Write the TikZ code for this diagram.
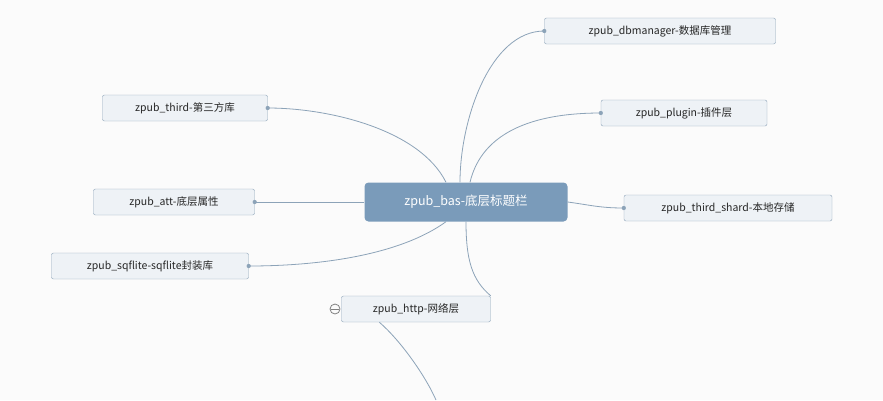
\documentclass[tikz,border=0pt]{standalone}
\usepackage{fontspec}
\setmainfont{Noto Sans CJK SC}
\definecolor{rootblue}{HTML}{7A9BBA}
\definecolor{topicfill}{HTML}{EEF2F6}
\definecolor{edge}{HTML}{8CA3B8}
\tikzset{
  topic/.style={draw=edge,fill=topicfill,rounded corners=2pt,minimum height=26pt,inner xsep=8pt,font=\fontsize{10.5}{12}\selectfont,text=black!85},
  conn/.style={draw=edge,thick},
  knob/.style={fill=edge,draw=none,circle,inner sep=1.5pt}
}
\begin{document}
\begin{tikzpicture}[x=1pt,y=-1pt]
            \useasboundingbox[fill=white!97!gray] (0,0) rectangle (883,400);
            \node[fill=rootblue,rounded corners=4pt,minimum width=203pt,minimum height=39pt,text=white,font=\fontsize{12.5}{14}\selectfont] (root) at (466,202) {zpub\_bas-底层标题栏};

            \node[topic,minimum width=231pt] (dbm) at (660,31) {zpub\_dbmanager-数据库管理};
            \node[topic,minimum width=166pt] (plugin) at (684,113) {zpub\_plugin-插件层};
            \node[topic,minimum width=208pt] (shard) at (728,208) {zpub\_third\_shard-本地存储};
            \node[topic,minimum width=165pt] (third) at (185,108) {zpub\_third-第三方库};
            \node[topic,minimum width=161pt] (att) at (174,202) {zpub\_att-底层属性};
            \node[topic,minimum width=197pt] (sql) at (150,266) {zpub\_sqflite-sqflite封装库};
            \node[topic,minimum width=149pt] (http) at (416,309) {zpub\_http-网络层};
            \coordinate (tail) at (436,400);

            \draw[conn] (root.north) ++(-6,0) .. controls (460,120) and (490,31) .. (dbm.west);
            \draw[conn] (root.north) ++(4,0) .. controls (480,140) and (520,113) .. (plugin.west);
            \draw[conn] (root.east) .. controls (590,205) and (600,208) .. (shard.west);
            \draw[conn] (root.north) ++(-20,0) .. controls (420,130) and (330,108) .. (third.east);
            \draw[conn] (root.west) -- (att.east);
            \draw[conn] (root.south) ++(-20,0) .. controls (400,255) and (320,266) .. (sql.east);
            \draw[conn] (root.south) ++(0,0) .. controls (466,260) and (472,280) .. (http.north east) ++(-10,0);
            \draw[conn] (http.south west) ++(38,0) .. controls (400,340) and (425,375) .. (tail);

            \foreach \n in {dbm, plugin, shard} {
                \node[knob] at (\n.west) {};
            }
            \foreach \n in {third, att, sql} {
                \node[knob] at (\n.east) {};
            }
            \draw[gray,thick] (335,309) circle (5pt);
            \draw[gray,thick] (331,309) -- (339,309);
\end{tikzpicture}
\end{document}
